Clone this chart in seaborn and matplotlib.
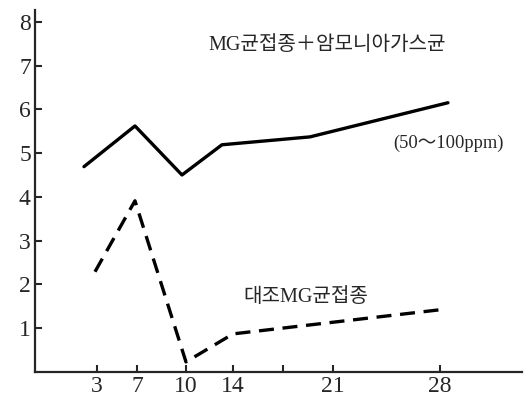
import matplotlib
matplotlib.use("Agg")
import matplotlib.pyplot as plt
import seaborn as sns
import pandas as pd

# Data (x in axis position units)
tick_pos = [1.24, 2.04, 3.02, 3.96, 4.96, 5.96, 8.10]
tick_labels = ["3", "7", "10", "14", "", "21", "28"]

ammonia_x = [0.98, 2.00, 2.94, 3.74, 5.50, 8.26]
ammonia_y = [4.69, 5.62, 4.50, 5.19, 5.37, 6.15]

control_x = [1.20, 2.00, 3.02, 3.96, 8.24]
control_y = [2.29, 3.91, 0.23, 0.87, 1.44]

y_ticks = [1, 2, 3, 4, 5, 6, 7, 8]

sns.set_style("ticks")
plt.rcParams["font.family"] = ["Liberation Serif", "Noto Sans CJK KR"]

df_a = pd.DataFrame({"x": ammonia_x, "y": ammonia_y})
df_c = pd.DataFrame({"x": control_x, "y": control_y})

fig = plt.figure(figsize=(5.27, 4.05), dpi=100)
ax = fig.add_axes([0.0664, 0.0815, 0.924, 0.894])

sns.lineplot(data=df_a, x="x", y="y", ax=ax, color="black", lw=2.4,
             sort=False, estimator=None)
sns.lineplot(data=df_c, x="x", y="y", ax=ax, color="black", lw=2.4,
             sort=False, estimator=None, dashes=False)
ax.lines[-1].set_linestyle((0, (4.5, 2.6)))

ax.set_xlim(0, 9.74)
ax.set_ylim(0, 8.27)
ax.set_xticks(tick_pos)
ax.set_xticklabels(tick_labels)
ax.set_yticks(y_ticks)
ax.set_yticklabels([str(v) for v in y_ticks])
ax.tick_params(direction="in", length=5, width=1.5, labelsize=17, pad=3)
ax.set_xlabel("")
ax.set_ylabel("")
for s in ["top", "right"]:
    ax.spines[s].set_visible(False)
for s in ["left", "bottom"]:
    ax.spines[s].set_linewidth(1.6)

txt_fam = ["Liberation Serif", "Noto Sans CJK KR"]
ax.text(3.46, 7.45, "MG균접종＋암모니아가스균", fontsize=14.5, family=txt_fam,
        ha="left", va="center")
ax.text(7.16, 5.23, "(50～100ppm)", fontsize=13.3, family=txt_fam,
        ha="left", va="center")
ax.text(4.16, 1.71, "대조MG균접종", fontsize=14.5, family=txt_fam,
        ha="left", va="center")

fig.savefig("out.png", dpi=100)
